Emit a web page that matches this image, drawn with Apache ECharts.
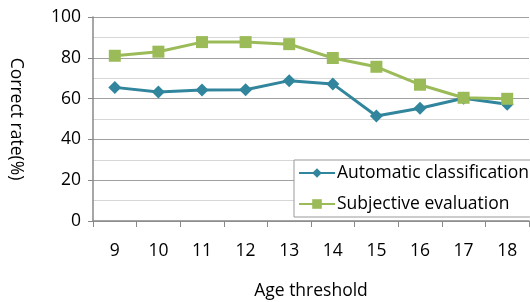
<!DOCTYPE html>
<html>
  <head>
    <meta charset="utf-8" />
  </head>
  <body style="margin:0">
  <div id="main" style="width: 530px;height:302px;"></div>

  <script type="text/javascript" src="https://cdn.jsdelivr.net/npm/echarts@6/dist/echarts.min.js"></script>
  <script type="text/javascript">
      // data
      var ages = ['9', '10', '11', '12', '13', '14', '15', '16', '17', '18'];
      var automatic = [65.5, 63.2, 64.2, 64.3, 68.8, 67.2, 51.5, 55.3, 60.2, 57.2];
      var subjective = [81.0, 83.0, 87.7, 87.7, 86.7, 79.9, 75.6, 66.8, 60.4, 59.9];

      var font = '"Open Sans", "Liberation Sans", sans-serif';
      var myChart = echarts.init(document.getElementById('main'));

      var option = {
        animation: false,
        textStyle: { fontFamily: font },
        grid: { left: 93, right: 1, top: 17, bottom: 81, outerBoundsMode: 'none' },
        legend: {
          orient: 'vertical',
          left: 294,
          top: 160,
          padding: [4, 20, 4, 4],
          itemGap: 13,
          itemWidth: 36,
          itemHeight: 12,
          backgroundColor: '#fff',
          borderColor: '#999',
          borderWidth: 1,
          textStyle: { fontSize: 17.5, color: '#000', fontFamily: font, padding: [0, 0, 0, -3] },
          data: ['Automatic classification', 'Subjective evaluation']
        },
        xAxis: {
          type: 'category',
          data: ages,
          name: 'Age threshold',
          nameLocation: 'middle',
          nameGap: 61,
          nameTextStyle: { fontSize: 17.5, color: '#000' },
          axisLine: { lineStyle: { color: '#888', width: 1.5 } },
          axisTick: { show: true, length: 6, lineStyle: { color: '#888' } },
          axisLabel: { fontSize: 17.5, color: '#000', margin: 21 }
        },
        yAxis: {
          type: 'value',
          min: 0,
          max: 100,
          interval: 20,
          name: 'Correct rate(%)',
          nameLocation: 'middle',
          nameGap: 68,
          nameRotate: -90,
          nameTextStyle: { fontSize: 17.5, color: '#000' },
          axisLine: { show: true, lineStyle: { color: '#888', width: 1.5 } },
          axisTick: { show: true, length: 5, lineStyle: { color: '#888' } },
          axisLabel: { fontSize: 17.5, color: '#000', margin: 12 },
          splitLine: { lineStyle: { color: '#a0a0a0', width: 1 } },
          minorTick: { show: false, splitNumber: 2 },
          minorSplitLine: { show: true, lineStyle: { color: '#d6d6d6', width: 1 } }
        },
        series: [
          {
            name: 'Automatic classification',
            type: 'line',
            data: automatic,
            symbol: 'diamond',
            symbolSize: 13,
            color: '#31859c',
            lineStyle: { width: 3 }
          },
          {
            name: 'Subjective evaluation',
            type: 'line',
            data: subjective,
            symbol: 'rect',
            symbolSize: 12,
            color: '#9bbb59',
            lineStyle: { width: 3 }
          }
        ]
      };

      myChart.setOption(option);
    </script>
</body>
</html>
